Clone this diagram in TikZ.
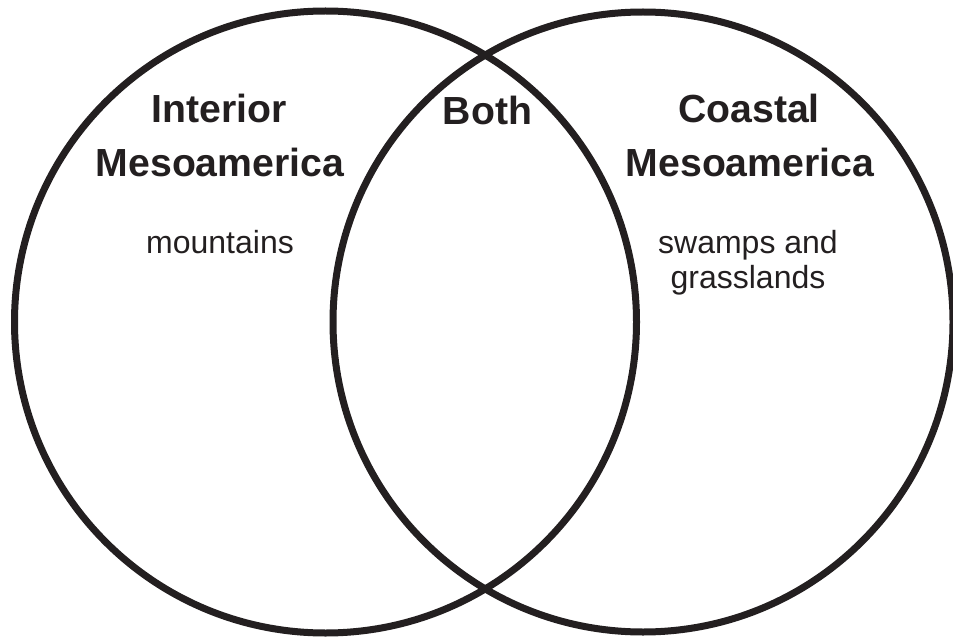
\documentclass[tikz,border=0pt]{standalone}
\usepackage{fontspec}
\setmainfont{Liberation Sans}
\definecolor{ink}{HTML}{231F20}
\begin{document}
\begin{tikzpicture}[x=1pt,y=-1pt,
  ring/.style={draw=ink,line width=7pt},
  head/.style={anchor=base,text=ink,font=\fontsize{39.2}{54}\selectfont\bfseries,align=center,inner sep=0pt},
  body/.style={anchor=base,text=ink,font=\fontsize{32}{35}\selectfont,align=center,inner sep=0pt}]
\useasboundingbox (0,0) rectangle (953,639);
\draw[ring] (325.5,322) circle (311pt);
\draw[ring] (643,322) circle (310pt);
\node[head] (int1) at (219,123) {Interior};
\node[head] (int2) at (220,177) {Mesoamerica};
\node[head] (both) at (487.5,125) {Both};
\node[head] (coa1) at (749,123) {Coastal};
\node[head] (coa2) at (750,177) {Mesoamerica};
\node[body] (mtn) at (220,253) {mountains};
\node[body] (sw1) at (748,253) {swamps and};
\node[body] (sw2) at (748,288) {grasslands};
\end{tikzpicture}
\end{document}
